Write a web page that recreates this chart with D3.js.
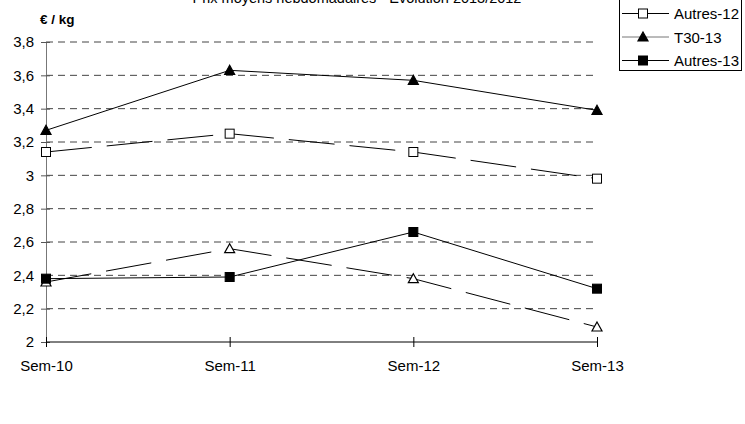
<!DOCTYPE html>
<html><head><meta charset="utf-8">
<script src="https://cdn.jsdelivr.net/npm/d3@7"></script>
<style>body{margin:0;background:#fff}svg{display:block}text{font-family:"Liberation Sans",Arial,sans-serif}</style>
</head><body><svg id="c" width="745" height="424"></svg>
<script>
const categories = ["Sem-10","Sem-11","Sem-12","Sem-13"];
const seriesNames = ["T30-12","Autres-12","T30-13","Autres-13"];
const t30_12 = [2.36, 2.56, 2.38, 2.09];
const autres_12 = [3.14, 3.25, 3.14, 2.98];
const t30_13 = [3.27, 3.63, 3.57, 3.39];
const autres_13 = [2.38, 2.39, 2.66, 2.32];
const yTicks = [2,2.2,2.4,2.6,2.8,3,3.2,3.4,3.6,3.8];
const title = "Prix moyens hebdomadaires - Evolution 2013/2012";
const unit = "€ / kg";

const series = [
  {name:seriesNames[0], values:t30_12, marker:"triangle", filled:false, dash:"46,15"},
  {name:seriesNames[1], values:autres_12, marker:"square", filled:false, dash:"46,15"},
  {name:seriesNames[2], values:t30_13, marker:"triangle", filled:true, dash:null},
  {name:seriesNames[3], values:autres_13, marker:"square", filled:true, dash:null}
];

const svg = d3.select("#c");
const x = d3.scalePoint().domain(categories).range([46,597]);
const y = d3.scaleLinear().domain([2,3.8]).range([342,42]);
const fmt = d => String(d).replace(".", ",");

// gridlines
svg.append("g").selectAll("line").data(yTicks.slice(1)).join("line")
  .attr("x1",46).attr("x2",597).attr("y1",d=>y(d)).attr("y2",d=>y(d))
  .attr("stroke","#444").attr("stroke-width",1).attr("stroke-dasharray","7,5");

// axes
const ya = svg.append("g").attr("transform","translate(46,0)")
  .call(d3.axisLeft(y).tickValues(yTicks).tickFormat(fmt).tickSize(5).tickPadding(7));
ya.select(".domain").attr("stroke","#777");
ya.selectAll(".tick line").attr("stroke","#555").attr("x2",4).attr("x1",-5);
ya.selectAll("text").attr("font-size",15).attr("fill","#000");

const xa = svg.append("g").attr("transform","translate(0,342)")
  .call(d3.axisBottom(x).tickSize(5).tickPadding(12));
xa.select(".domain").attr("stroke","#000").attr("d","M46,0H597");
xa.selectAll(".tick line").attr("stroke","#000").attr("y1",-5).attr("y2",5);
xa.selectAll("text").attr("font-size",15).attr("fill","#000").attr("dy",null).attr("y",29);

// lines
const line = d3.line().x((d,i)=>x(categories[i])).y(d=>y(d));
series.forEach(s=>{
  svg.append("path").attr("d",line(s.values)).attr("fill","none")
    .attr("stroke","#000").attr("stroke-width",1)
    .attr("stroke-dasharray",s.dash);
});

function drawMarker(g, s, cx, cy){
  if(s.marker==="square"){
    g.append("rect").attr("x",cx-4.5).attr("y",cy-4.5).attr("width",9).attr("height",9)
      .attr("fill",s.filled?"#000":"#fff").attr("stroke","#000").attr("stroke-width",1);
  } else {
    g.append("path").attr("d",`M${cx},${cy-5}L${cx+5},${cy+4}L${cx-5},${cy+4}Z`)
      .attr("fill",s.filled?"#000":"#fff").attr("stroke","#000").attr("stroke-width",1.2);
  }
}
const mg = svg.append("g");
series.forEach(s=>s.values.forEach((v,i)=>drawMarker(mg,s,x(categories[i]),y(v))));

// title and unit
svg.append("text").attr("x",357).attr("y",3).attr("text-anchor","middle")
  .attr("font-size",14.5).text(title);
svg.append("text").attr("x",40).attr("y",24).attr("font-size",13.5).attr("font-weight","bold").text(unit);

// legend
const lg = svg.append("g");
lg.append("rect").attr("x",619.5).attr("y",-20.5).attr("width",122).attr("height",91)
  .attr("fill","#fff").attr("stroke","#000");
series.forEach((s,i)=>{
  const ly = -10 + i*23.5;
  lg.append("line").attr("x1",622).attr("x2",669).attr("y1",ly).attr("y2",ly)
    .attr("stroke", s.name==="T30-13" ? "#777" : "#000");
  drawMarker(lg,{...s},643,ly);
  lg.append("text").attr("x",674).attr("y",ly+5.5).attr("font-size",15).text(s.name);
});
</script></body></html>
